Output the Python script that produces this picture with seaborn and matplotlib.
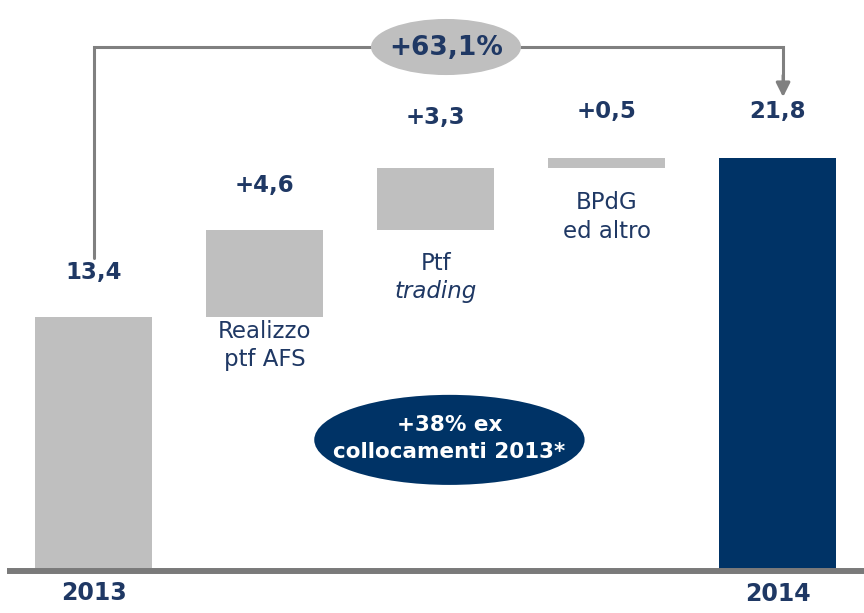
import matplotlib
matplotlib.use("Agg")
import matplotlib.pyplot as plt
from matplotlib.patches import Ellipse
import seaborn as sns
import numpy as np

# ---- data ----
categories = ["2013", "Realizzo ptf AFS", "Ptf trading", "BPdG ed altro", "2014"]
values = [13.4, 4.6, 3.3, 0.5, 21.8]
value_labels = ["13,4", "+4,6", "+3,3", "+0,5", "21,8"]
year_labels = ["2013", "2014"]
growth_label = "+63,1%"
note_label = "+38% ex\ncollocamenti 2013*"

# waterfall geometry derived from values
is_total = [True, False, False, False, True]
bottoms = []
running = 0.0
for v, tot in zip(values, is_total):
    if tot:
        bottoms.append(0.0)
        running = v
    else:
        bottoms.append(running)
        running += v
tops = [b + v for b, v in zip(bottoms, values)]

GRAY = "#bfbfbf"
NAVY = "#003366"
TXT = "#1f3864"
LINE = "#808080"
colors = [GRAY, GRAY, GRAY, GRAY, NAVY]

sns.set_theme(style="white")
plt.rcParams["font.family"] = ["DejaVu Sans"]

fig = plt.figure(figsize=(8.64, 6.13), dpi=100)
ax = fig.add_axes([0, 0, 1, 1])

sns.barplot(x=categories, y=values, bottom=np.array(bottoms), order=categories,
            color=GRAY, width=0.684, saturation=1, ax=ax,
            edgecolor="none", linewidth=0, zorder=2)
for patch, c in zip(ax.patches, colors):
    patch.set_facecolor(c)

ax.set_xlim(-0.5465, 4.503)
ax.set_ylim(-2.28, 30.19)
ax.axis("off")

# baseline
ax.plot([-0.506, 4.6], [-0.05, -0.05], color="#7a7a7a", lw=4.3,
        solid_capstyle="butt", zorder=3)

# value labels
val_offsets = [2.38, 2.34, 2.64, 2.5, 2.5]
for i, (t, lab) in enumerate(zip(tops, value_labels)):
    ax.text(i, t + val_offsets[i], lab, ha="center", va="center",
            fontsize=16.5, fontweight="bold", color=TXT, zorder=5)

# category labels under floating bars
lab_fs = 16.5
ax.text(1, 13.4 - 0.18, "Realizzo", ha="center", va="top",
        fontsize=lab_fs, color=TXT)
ax.text(1, 13.4 - 1.63, "ptf AFS", ha="center", va="top",
        fontsize=lab_fs, color=TXT)
ax.text(2, 18.0 - 1.15, "Ptf", ha="center", va="top",
        fontsize=lab_fs, color=TXT)
ax.text(2, 18.0 - 2.65, "trading", ha="center", va="top",
        fontsize=lab_fs, color=TXT, style="italic")
ax.text(3, 21.3 - 1.25, "BPdG", ha="center", va="top",
        fontsize=lab_fs, color=TXT)
ax.text(3, 21.3 - 2.78, "ed altro", ha="center", va="top",
        fontsize=lab_fs, color=TXT)

# year labels
ax.text(0, -1.2, year_labels[0], ha="center", va="center",
        fontsize=17, fontweight="bold", color=TXT)
ax.text(4, -1.3, year_labels[1], ha="center", va="center",
        fontsize=17, fontweight="bold", color=TXT)

# bracket with arrow
yb = 27.7
ax.plot([0, 0, 4.03, 4.03], [16.5, yb, yb, 25.9], color=LINE, lw=2.2,
        solid_joinstyle="miter", zorder=3)
ax.annotate("", xy=(4.03, 25.05), xytext=(4.03, 26.2),
            arrowprops=dict(arrowstyle="-|>,head_length=0.7,head_width=0.35",
                            color=LINE, lw=2.2, shrinkA=0, shrinkB=0),
            zorder=3)

# growth ellipse
ax.add_patch(Ellipse((2.06, 27.7), 0.877, 2.97, facecolor=GRAY,
                     edgecolor="none", zorder=4))
ax.text(2.06, 27.65, growth_label, ha="center", va="center", fontsize=19,
        fontweight="bold", color=TXT, zorder=5)

# note ellipse
ax.add_patch(Ellipse((2.08, 6.89), 1.58, 4.77, facecolor=NAVY,
                     edgecolor="none", zorder=4))
ax.text(2.08, 6.95, note_label, ha="center", va="center", fontsize=15.5,
        fontweight="bold", color="white", linespacing=1.45, zorder=5)

fig.savefig("out.png", dpi=100)
